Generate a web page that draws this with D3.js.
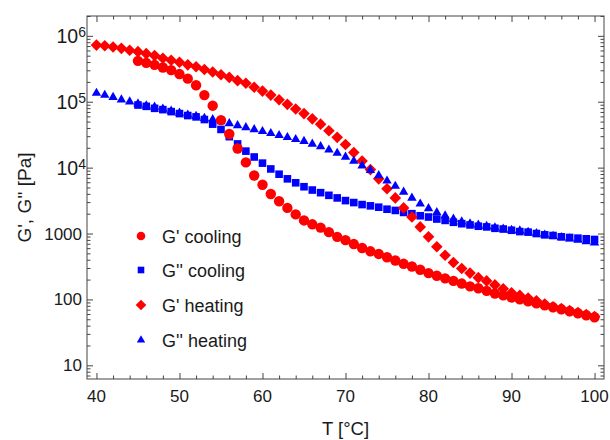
<!DOCTYPE html>
<html>
<head>
<meta charset="utf-8">
<script src="https://cdn.jsdelivr.net/npm/d3@7"></script>
<style>
  body { margin: 0; background: #fff; }
  svg { display: block; font-family: "Liberation Sans", Arial, sans-serif; }
</style>
</head>
<body>
<svg id="chart" width="610" height="440"></svg>
<script>
// temperatures (°C)
const tHeating = [40, 41, 42, 43, 44, 45, 46, 47, 48, 49, 50, 51, 52, 53, 54, 55, 56, 57, 58, 59,
  60, 61, 62, 63, 64, 65, 66, 67, 68, 69, 70, 71, 72, 73, 74, 75, 76, 77, 78, 79,
  80, 81, 82, 83, 84, 85, 86, 87, 88, 89, 90, 91, 92, 93, 94, 95, 96, 97, 98, 99, 100];
const tCooling = [45, 46, 47, 48, 49, 50, 51, 52, 53, 54, 55, 56, 57, 58, 59,
  60, 61, 62, 63, 64, 65, 66, 67, 68, 69, 70, 71, 72, 73, 74, 75, 76, 77, 78, 79,
  80, 81, 82, 83, 84, 85, 86, 87, 88, 89, 90, 91, 92, 93, 94, 95, 96, 97, 98, 99, 100];

// moduli (Pa)
const gPrimeCooling = [417000, 389000, 363000, 331000, 302000, 263000, 224000, 178000, 126000, 87100,
  52500, 32400, 19500, 12000, 7590, 5500, 3980, 3090, 2450, 1950,
  1580, 1380, 1230, 1050, 891, 794, 692, 603, 537, 490,
  437, 389, 347, 316, 282, 251, 229, 209, 191, 174,
  158, 148, 135, 123, 115, 107, 100, 93.3, 87.1, 81.3,
  75.9, 70.8, 66.1, 61.7, 57.5, 53.7];
const gDoubleCooling = [89100, 85100, 79400, 75900, 70800, 66100, 61700, 58900, 53700, 45700,
  38000, 29500, 22900, 17800, 14500, 11700, 9550, 7940, 6760, 5890,
  5130, 4570, 4170, 3800, 3470, 3160, 2950, 2750, 2630, 2510,
  2340, 2240, 2090, 2000, 1860, 1780, 1660, 1580, 1480, 1410,
  1350, 1290, 1260, 1200, 1170, 1120, 1070, 1050, 1000, 955,
  933, 891, 871, 851, 832, 813];
const gPrimeHeating = [724000, 708000, 676000, 646000, 603000, 575000, 537000, 501000, 457000, 427000,
  398000, 363000, 339000, 309000, 282000, 257000, 234000, 209000, 191000, 166000,
  145000, 126000, 107000, 91200, 77600, 66100, 55000, 45700, 36300, 28800,
  22400, 17000, 12600, 9330, 6760, 4790, 3470, 2450, 1780, 1260,
  891, 631, 468, 363, 295, 251, 214, 191, 166, 145,
  126, 115, 105, 95.5, 85.1, 77.6, 72.4, 67.6, 63.1, 58.9, 55.0];
const gDoubleHeating = [135000, 126000, 117000, 107000, 100000, 93300, 87100, 83200, 77600, 72400,
  67600, 63100, 60300, 56200, 53700, 50100, 46800, 43700, 40700, 38000,
  35500, 33100, 30900, 28800, 26900, 25100, 22900, 20900, 18600, 16600,
  14500, 12600, 10700, 9120, 7590, 6310, 5250, 4270, 3470, 2820,
  2400, 2090, 1860, 1660, 1510, 1410, 1350, 1290, 1230, 1170,
  1120, 1100, 1050, 1000, 955, 912, 871, 832, 794, 759, 724];

const xTicks = [40, 50, 60, 70, 80, 90, 100];
const yTicks = [10, 100, 1000, 1e4, 1e5, 1e6];
const yTickLabels = ["10", "100", "1000", "10|4", "10|5", "10|6"];

const legendLabels = ["G' cooling", "G'' cooling", "G' heating", "G'' heating"];

const RED = "#ff0000", BLUE = "#0000ff", FRAME = "#444", INK = "#1a1a1a";

const svg = d3.select("#chart");
const mLeft = 87, mRight = 604, mTop = 16, mBottom = 379;

const x = d3.scaleLinear().domain([38.86, 101.14]).range([mLeft, mRight]);
const y = d3.scaleLog().domain([6.2, 2e6]).range([mBottom, mTop]);

// minor ticks
const xMinor = d3.range(40, 101, 2).filter(v => !xTicks.includes(v));
const yMinor = [];
[1, 10, 100, 1000, 1e4, 1e5, 1e6].forEach(d => {
  for (let k = 2; k <= 9; k++) {
    const v = d * k;
    if (v >= 6.2 && v <= 2e6) yMinor.push(v);
  }
});

function drawAxis(axisFn, scale, values, size, transform) {
  const g = svg.append("g").attr("transform", transform)
    .call(axisFn(scale).tickValues(values).tickSize(size).tickFormat(""));
  g.select(".domain").remove();
  g.selectAll("line").attr("stroke", FRAME);
  return g;
}

drawAxis(d3.axisBottom, x, xTicks, -6, `translate(0,${mBottom})`);
drawAxis(d3.axisBottom, x, xMinor, -3.5, `translate(0,${mBottom})`);
drawAxis(d3.axisTop, x, xTicks, -6, `translate(0,${mTop})`);
drawAxis(d3.axisTop, x, xMinor, -3.5, `translate(0,${mTop})`);
drawAxis(d3.axisLeft, y, yTicks, -6, `translate(${mLeft},0)`);
drawAxis(d3.axisLeft, y, yMinor, -3.5, `translate(${mLeft},0)`);
drawAxis(d3.axisRight, y, yTicks, -6, `translate(${mRight},0)`);
drawAxis(d3.axisRight, y, yMinor, -3.5, `translate(${mRight},0)`);

svg.append("rect")
  .attr("x", mLeft).attr("y", mTop)
  .attr("width", mRight - mLeft).attr("height", mBottom - mTop)
  .attr("fill", "none").attr("stroke", FRAME).attr("stroke-width", 1);

// tick labels
svg.append("g").selectAll("text").data(xTicks).join("text")
  .attr("x", d => x(d)).attr("y", 402)
  .attr("text-anchor", "middle").attr("font-size", 17).attr("fill", INK)
  .text(d => d);

const yl = svg.append("g").selectAll("text").data(yTicks).join("text")
  .attr("text-anchor", "end").attr("fill", INK);
yl.each(function(d, i) {
  const parts = yTickLabels[i].split("|");
  const t = d3.select(this);
  if (parts[1]) {
    t.attr("x", 86).attr("y", y(d) + 7.5);
    t.append("tspan").attr("font-size", 19.5).text(parts[0]);
    t.append("tspan").attr("dy", -6).attr("font-size", 14).text(parts[1]);
  } else {
    t.attr("x", 82).attr("y", y(d) + 6).attr("font-size", 17).text(parts[0]);
  }
});

// axis titles
svg.append("text")
  .attr("x", (mLeft + mRight) / 2).attr("y", 435)
  .attr("text-anchor", "middle").attr("font-size", 18.5).attr("fill", INK)
  .text("T [°C]");
svg.append("text")
  .attr("transform", `translate(31,${(mTop + mBottom) / 2}) rotate(-90)`)
  .attr("text-anchor", "middle").attr("font-size", 19).attr("fill", INK)
  .text("G', G'' [Pa]");

// marker shapes
const diamond = s => `M0,${-s}L${s},0L0,${s}L${-s},0Z`;
const shapes = {
  circle: r => d3.symbol(d3.symbolCircle, Math.PI * r * r)(),
  square: r => d3.symbol(d3.symbolSquare, (2 * r) * (2 * r))(),
  diamond: r => diamond(r),
  triangle: r => d3.symbol(d3.symbolTriangle, Math.sqrt(3) / 4 * (2 * r) * (2 * r))()
};

const series = [
  { name: legendLabels[1], t: tCooling, v: gDoubleCooling, shape: "square", r: 3.8, color: BLUE },
  { name: legendLabels[2], t: tHeating, v: gPrimeHeating, shape: "diamond", r: 5.8, color: RED },
  { name: legendLabels[3], t: tHeating, v: gDoubleHeating, shape: "triangle", r: 4.7, color: BLUE },
  { name: legendLabels[0], t: tCooling, v: gPrimeCooling, shape: "circle", r: 5.2, color: RED }
];

const plot = svg.append("g");
series.forEach(s => {
  const pts = s.t.map((t, i) => [t, s.v[i]]);
  const path = shapes[s.shape](s.r);
  plot.append("g").selectAll("path").data(pts).join("path")
    .attr("d", path)
    .attr("transform", d => `translate(${x(d[0])},${y(d[1])})`)
    .attr("fill", s.color);
});

// legend
const legendItems = [
  { label: legendLabels[0], shape: "circle", r: 4.3, color: RED },
  { label: legendLabels[1], shape: "square", r: 3.3, color: BLUE },
  { label: legendLabels[2], shape: "diamond", r: 5.3, color: RED },
  { label: legendLabels[3], shape: "triangle", r: 4.2, color: BLUE }
];
const legendY = [236, 270, 305, 340];
const lg = svg.append("g");
legendItems.forEach((d, i) => {
  lg.append("path").attr("d", shapes[d.shape](d.r))
    .attr("transform", `translate(141,${legendY[i]})`).attr("fill", d.color);
  lg.append("text").attr("x", 162).attr("y", legendY[i] + 6.5)
    .attr("font-size", 18).attr("fill", INK).text(d.label);
});
</script>
</body>
</html>
